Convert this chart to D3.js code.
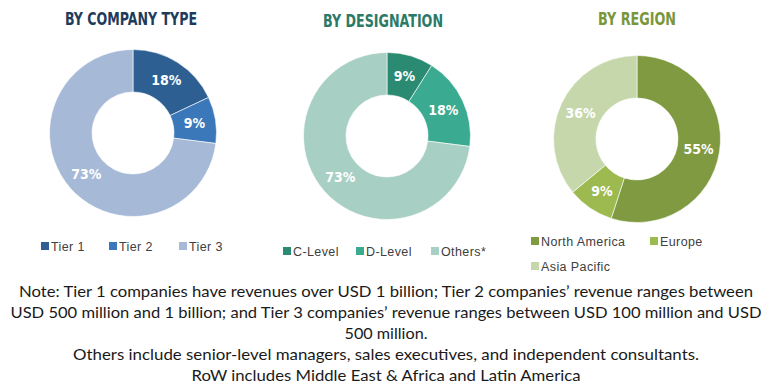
<!DOCTYPE html>
<html>
<head>
<meta charset="utf-8">
<script src="https://cdn.jsdelivr.net/npm/d3@7"></script>
<style>
  html, body { margin: 0; padding: 0; background: #ffffff; }
  svg { display: block; }
</style>
</head>
<body>
<svg id="chart" width="766" height="390"></svg>
<script>
// ---- Data ----
const companyCategories = ["Tier 1", "Tier 2", "Tier 3"];
const companyValues = [18, 9, 73];
const companyColors = ["#2e5f93", "#3a78b9", "#a6b9d6"];

const designationCategories = ["C-Level", "D-Level", "Others*"];
const designationValues = [9, 18, 73];
const designationColors = ["#2a8a72", "#3aaa91", "#a8cfc3"];

const regionCategories = ["North America", "Europe", "Asia Pacific"];
const regionValues = [55, 9, 36];
const regionColors = ["#7f9a40", "#9cba50", "#c6d8ab"];

const titles = ["BY COMPANY TYPE", "BY DESIGNATION", "BY REGION"];
const titleColors = ["#1f3b5c", "#2b7a67", "#7a963a"];

const noteLines = [
  "Note: Tier 1 companies have revenues over USD 1 billion; Tier 2 companies\u2019 revenue ranges between",
  "USD 500 million and 1 billion; and Tier 3 companies\u2019 revenue ranges between USD 100 million and USD",
  "500 million.",
  "Others include senior-level managers, sales executives, and independent consultants.",
  "RoW includes Middle East & Africa and Latin America"
];

// ---- Layout ----
const svg = d3.select("#chart");
const panels = [
  { cats: companyCategories, vals: companyValues, cols: companyColors,
    cx: 133, cy: 133, titleX: 131, titleY: 24.5, titleW: 132,
    legend: [[41, 246], [109, 246], [179, 246]] },
  { cats: designationCategories, vals: designationValues, cols: designationColors,
    cx: 387, cy: 136, titleX: 383, titleY: 26.5, titleW: 120,
    legend: [[283, 251], [356, 251], [431, 251]] },
  { cats: regionCategories, vals: regionValues, cols: regionColors,
    cx: 637, cy: 139, titleX: 637, titleY: 24.5, titleW: 78,
    legend: [[531, 241], [650, 241], [531, 266]] }
];
const outerR = 83.5, innerR = 41;

const pie = d3.pie().sort(null).value(d => d);
const arc = d3.arc().innerRadius(innerR).outerRadius(outerR);
const labelArc = d3.arc().innerRadius((innerR + outerR) / 2).outerRadius((innerR + outerR) / 2);

panels.forEach((p, i) => {
  const color = d3.scaleOrdinal().domain(p.cats).range(p.cols);

  svg.append("text")
    .attr("x", p.titleX).attr("y", p.titleY)
    .attr("text-anchor", "middle")
    .attr("font-family", "'DejaVu Sans Condensed', 'DejaVu Sans', sans-serif")
    .attr("font-weight", "bold")
    .attr("font-size", 17.5)
    .attr("fill", titleColors[i])
    .attr("textLength", p.titleW)
    .attr("lengthAdjust", "spacingAndGlyphs")
    .text(titles[i]);

  const g = svg.append("g").attr("transform", `translate(${p.cx},${p.cy})`);
  const arcs = pie(p.vals);
  g.selectAll("path").data(arcs).join("path")
    .attr("d", arc)
    .attr("fill", (d, j) => color(p.cats[j]))
    .attr("stroke", "#ffffff")
    .attr("stroke-width", 0.6);

  g.selectAll("text").data(arcs).join("text")
    .attr("transform", d => `translate(${labelArc.centroid(d)})`)
    .attr("text-anchor", "middle")
    .attr("dy", "0.36em")
    .attr("font-family", "'DejaVu Sans Condensed', 'DejaVu Sans', sans-serif")
    .attr("font-weight", "bold")
    .attr("font-size", 14)
    .attr("fill", "#ffffff")
    .text(d => d.value + "%");

  const lg = svg.append("g");
  p.cats.forEach((c, j) => {
    const [lx, ly] = p.legend[j];
    lg.append("rect")
      .attr("x", lx).attr("y", ly - 4)
      .attr("width", 8).attr("height", 8)
      .attr("fill", color(c));
    lg.append("text")
      .attr("x", lx + 10).attr("y", ly + 4.5)
      .attr("font-family", "'Liberation Sans', Arial, sans-serif")
      .attr("font-size", 12.5)
      .attr("letter-spacing", 0.4)
      .attr("fill", "#404040")
      .text(c);
  });
});

// ---- Notes ----
const noteWidths = [734, 751, 83, 626, 389];
const noteBaselines = [297, 318, 339, 360, 381];
noteLines.forEach((t, i) => {
  svg.append("text")
    .attr("x", 386).attr("y", noteBaselines[i])
    .attr("text-anchor", "middle")
    .attr("font-family", "Lato, 'Open Sans', sans-serif")
    .attr("font-size", 16)
    .attr("fill", "#1a1a1a")
    .attr("textLength", noteWidths[i])
    .attr("lengthAdjust", "spacingAndGlyphs")
    .text(t);
});
</script>
</body>
</html>
